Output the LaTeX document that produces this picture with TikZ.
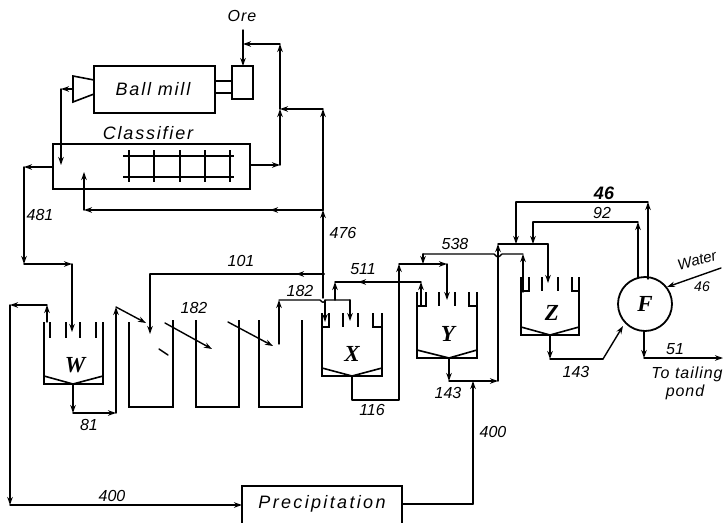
\documentclass[tikz,border=0pt]{standalone}
\usepackage{fontspec}
\setmainfont{Liberation Sans}
\newfontfamily\tankfont{Liberation Serif}
\usetikzlibrary{arrows.meta}
\tikzset{
  pipe/.style={line width=1.4pt,line join=round,line cap=round},
  tip/.style={pipe,-{Stealth[length=8pt,width=5.5pt]}},
  wall/.style={line width=1.6pt,line join=miter},
  boxed/.style={draw,wall,inner sep=0pt,outer sep=0pt,anchor=north west},
  lab/.style={font=\itshape\fontsize{16}{16}\selectfont,inner sep=0pt},
  big/.style={font=\itshape\fontsize{18}{18}\selectfont\addfontfeature{LetterSpace=10},inner sep=0pt},
  wide/.style={font=\itshape\fontsize{16}{16}\selectfont\addfontfeature{LetterSpace=6},inner sep=0pt},
  tk/.style={font=\tankfont\bfseries\itshape\fontsize{23}{23}\selectfont,inner sep=0pt}
}
\newcommand{\settler}[9]{%
  \draw[wall] (#1,#3) -- (#1,#4) -- (#2,#4) -- (#2,#3);
  \draw[wall] (#1,#5) -- (#6,#4) -- (#2,#5);
  \draw[wall] (#7,#3) -- (#7,#3+14) -- (#1,#3+14);
  \draw[wall] (#8,#3) -- (#8,#3+14) -- (#2,#3+14);
  \coordinate (#9) at (#6,#4);
}
\begin{document}
\begin{tikzpicture}[x=1pt,y=-1pt]
\useasboundingbox (0,0) rectangle (725,522);
% equipment
\node[boxed,minimum width=121pt,minimum height=47pt] (mill) at (94,66) {};
\node[boxed,minimum width=21pt,minimum height=33pt] (feed) at (232,66) {};
\node[boxed,minimum width=197pt,minimum height=45pt] (cls) at (53,144) {};
\node[boxed,minimum width=160pt,minimum height=40pt] (prec) at (242,486) {};
\node[draw,circle,line width=1.8pt,minimum size=54pt,inner sep=0pt] (F) at (645,304) {};
\draw[wall] (94,80) -- (73,76) -- (73,102) -- (94,94);
\draw[wall] (215,81) -- (232,81) (215,93) -- (232,93);
\foreach \y in {156,177} \draw[wall] (123,\y) -- (234,\y);
\foreach \x in {129,154,180,205,230} \draw[wall] (\x,150) -- (\x,182);
% thickeners
\draw[wall] (44,322) -- (44,384) -- (103,384) -- (103,322);
\draw[wall] (44,376) -- (73,384) -- (103,376);
\foreach \x in {50,66,80,96} \draw[wall] (\x,322) -- (\x,338);
\coordinate (wB) at (73,384);
\settler{322}{382}{313}{376}{368}{352}{329}{373}{xB}
\foreach \x in {343,358} \draw[wall] (\x,313) -- (\x,327);
\settler{417}{477}{292}{358}{350}{449}{426}{469}{yB}
\foreach \x in {439,455} \draw[wall] (\x,292) -- (\x,306);
\settler{521}{579}{277}{335}{327}{550}{529}{572}{zB}
\foreach \x in {542,558} \draw[wall] (\x,277) -- (\x,291);
% agitators
\draw[wall] (129,322) -- (129,407) -- (173,407) -- (173,320);
\draw[wall] (196,320) -- (196,407) -- (239,407) -- (239,320);
\draw[wall] (259,320) -- (259,407) -- (302,407) -- (302,320);
% coordinates
\coordinate (ore) at (243,30); \coordinate (oreIn) at (243,66); \coordinate (retJ) at (243,44);
\coordinate (r1) at (280,165); \coordinate (r2) at (280,109); \coordinate (r3) at (280,44);
\coordinate (c1) at (250,165); \coordinate (v1) at (323,210); \coordinate (v2) at (323,109);
\coordinate (v0) at (323,298); \coordinate (a1) at (84,210); \coordinate (a2) at (84,172);
\coordinate (m1) at (73,89); \coordinate (m2) at (61,89); \coordinate (m3) at (61,165);
\coordinate (k1) at (53,167); \coordinate (k2) at (24,167); \coordinate (k3) at (24,264);
\coordinate (k4) at (72,264); \coordinate (k5) at (72,332);
\coordinate (o1) at (47,322); \coordinate (o2) at (47,305); \coordinate (o3) at (10,305); \coordinate (o4) at (10,505);
\coordinate (p1) at (402,504); \coordinate (p2) at (473,504); \coordinate (p3) at (473,381);
\coordinate (w1) at (73,413); \coordinate (w2) at (116,413); \coordinate (w3) at (116,307); \coordinate (w4) at (146,323);
\coordinate (d1) at (165,323); \coordinate (d2) at (212,349); \coordinate (d3) at (228,322); \coordinate (d4) at (273,346);
\coordinate (t1) at (324,274); \coordinate (t2) at (150,274); \coordinate (t3) at (150,334);
\coordinate (u1) at (279,344); \coordinate (u2) at (279,300); \coordinate (u3) at (350,300); \coordinate (u4) at (350,321);
\coordinate (q0) at (325,322); \coordinate (q1) at (325,300);
\coordinate (x1) at (335,300); \coordinate (x2) at (335,282); \coordinate (x3) at (399,282);
\coordinate (x4) at (399,400); \coordinate (x5) at (352,400); \coordinate (x6) at (399,264);
\coordinate (x7) at (447,264); \coordinate (x8) at (447,300);
\coordinate (y0) at (421,306); \coordinate (y1) at (421,282);
\coordinate (y2) at (449,381); \coordinate (y3) at (498,381); \coordinate (y4) at (498,244);
\coordinate (y5) at (498,254); \coordinate (y6) at (423,254); \coordinate (y7) at (423,264);
\coordinate (z1) at (548,244); \coordinate (z2) at (548,283); \coordinate (z3) at (523,254);
\coordinate (z4) at (523,292); \coordinate (z5) at (550,359); \coordinate (z6) at (603,359);
\coordinate (z7) at (623,326);
\coordinate (f1) at (648,279); \coordinate (f2) at (648,202); \coordinate (f3) at (516,202); \coordinate (f4) at (516,244);
\coordinate (f5) at (638,278); \coordinate (f6) at (638,222); \coordinate (f7) at (533,222); \coordinate (f8) at (533,244);
\coordinate (wa1) at (721,268); \coordinate (wa2) at (667,287);
\coordinate (f9) at (644,331); \coordinate (f10) at (644,358); \coordinate (f11) at (723,358);
% connectors
\draw[tip] (ore) -- (oreIn);
\draw[tip] (c1) -- (r1);
\draw[tip] (r1) -- (r2); \draw[tip] (r2) -- (r3);
\draw[tip] (r3) -- (retJ);
\draw[tip] (v0) -- (v1); \draw[tip] (v1) -- (v2); \draw[tip] (v2) -- (r2);
\draw[tip] (v1) -- (270,210); \draw[tip] (v1) -- (a1); \draw[tip] (a1) -- (a2);
\draw[tip] (m1) -- (m2); \draw[tip] (m2) -- (m3);
\draw[tip] (k1) -- (k2); \draw[tip] (k2) -- (k3); \draw[tip] (k3) -- (k4); \draw[tip] (k4) -- (k5);
\draw[tip] (o1) -- (o2); \draw[tip] (o2) -- (o3); \draw[tip] (o3) -- (o4); \draw[tip] (o4) -- (prec.west |- o4);
\draw[pipe] (p1) -- (p2); \draw[tip] (p2) -- (p3);
\draw[tip] (wB) -- (w1); \draw[tip] (w1) -- (w2); \draw[tip] (w2) -- (w3); \draw[tip] (w3) -- (w4);
\draw[tip] (d1) -- (d2); \draw[tip] (d3) -- (d4);
\draw[pipe] (159,349) -- (168,355);
\draw[tip] (t1) -- (296,274); \draw[pipe] (t1) -- (t2); \draw[tip] (t2) -- (t3);
\draw[tip] (u1) -- (u2); \draw[pipe] (u2) -- (320,300) .. controls (323,303) .. (326,300) -- (u3); \draw[tip] (u3) -- (u4);
\draw[tip] (q1) -- (q0);
\draw[tip] (x1) -- (x2); \draw[tip] (x3) -- (358,282); \draw[pipe] (x3) -- (x2);
\draw[pipe] (xB) -- (x5) -- (x4) -- (x3);
\draw[tip] (x3) -- (x6); \draw[tip] (x6) -- (x7); \draw[tip] (x7) -- (x8);
\draw[tip] (y0) -- (y1); \draw[pipe] (y1) -- (x3);
\draw[tip] (yB) -- (y2); \draw[tip] (y2) -- (y3); \draw[tip] (y3) -- (y4);
\draw[pipe] (y6) -- (494,254) .. controls (498,258) .. (502,254) -- (z3); \draw[tip] (y6) -- (y7);
\draw[pipe] (y4) -- (z1); \draw[tip] (z1) -- (z2);
\draw[tip] (z4) -- (z3);
\draw[tip] (zB) -- (z5); \draw[pipe] (z5) -- (z6); \draw[tip] (z6) -- (z7);
\draw[tip] (f1) -- (f2); \draw[pipe] (f2) -- (f3); \draw[tip] (f3) -- (f4);
\draw[tip] (f5) -- (f6); \draw[pipe] (f6) -- (f7); \draw[tip] (f7) -- (f8);
\draw[tip] (wa1) -- (wa2);
\draw[tip] (f9) -- (f10); \draw[tip] (f10) -- (f11);
% labels
\node[wide] (tOre) at (242,16) {Ore};
\node[big] (tMill) at (153,89) {Ball mill};
\node[big] (tCls) at (148,133) {Classifier};
\node[big,font=\itshape\fontsize{18}{18}\selectfont\addfontfeature{LetterSpace=13}] (tPrec) at (322,504) {Precipitation};
\node[lab] (n481) at (40,215) {481};
\node[lab] (n476) at (343,233) {476};
\node[lab] (n101) at (241,261) {101};
\node[lab] (n182a) at (194,308) {182};
\node[lab] (n182b) at (300,291) {182};
\node[lab] (n511) at (363,269) {511};
\node[lab] (n538) at (455,244) {538};
\node[lab] (n116) at (372,410) {116};
\node[lab] (n143a) at (448,393) {143};
\node[lab] (n143b) at (576,372) {143};
\node[lab] (n81) at (89,425) {81};
\node[lab] (n400a) at (112,496) {400};
\node[lab] (n400b) at (493,432) {400};
\node[lab,font=\itshape\bfseries\fontsize{18}{18}\selectfont] (n46a) at (604,193) {46};
\node[lab] (n92) at (602,213) {92};
\node[lab,rotate=15,font=\itshape\fontsize{15}{15}\selectfont] (tWater) at (697,260) {Water};
\node[lab,font=\itshape\fontsize{14}{14}\selectfont] (n46b) at (702,287) {46};
\node[lab] (n51) at (675,349) {51};
\node[wide] (tTo) at (687,374) {To tailing};
\node[wide] (tPond) at (685,392) {pond};
\node[tk] (lW) at (75,365) {W};
\node[tk] (lX) at (352,354) {X};
\node[tk] (lY) at (448,334) {Y};
\node[tk] (lZ) at (552,313) {Z};
\node[tk] (lF) at (645,304) {F};
\end{tikzpicture}
\end{document}
